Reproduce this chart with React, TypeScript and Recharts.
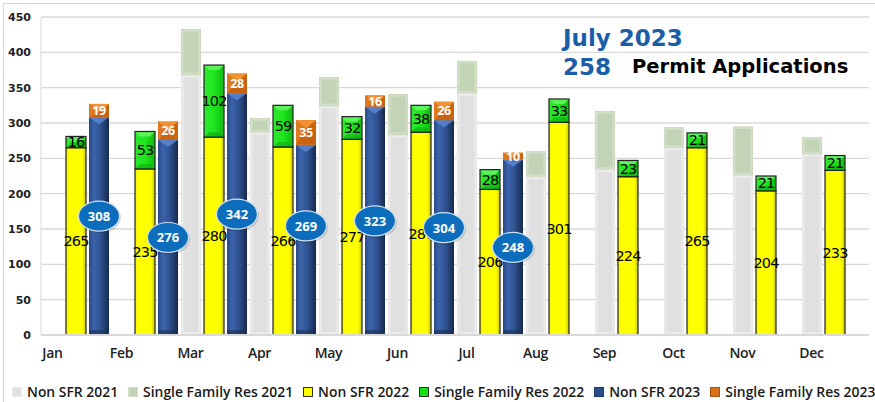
import { BarChart, Bar, XAxis, YAxis, CartesianGrid, LabelList } from "recharts";

const months = ["Jan", "Feb", "Mar", "Apr", "May", "Jun", "Jul", "Aug", "Sep", "Oct", "Nov", "Dec"];

const nonSfr2021 = [null, null, 368, 287, 324, 283, 342, 224, 234, 265, 226, 256];
const sfr2021 = [null, null, 65, 20, 41, 58, 46, 36, 83, 29, 69, 24];
const nonSfr2022 = [265, 235, 280, 266, 277, 287, 206, 301, 224, 265, 204, 233];
const sfr2022 = [16, 53, 102, 59, 32, 38, 28, 33, 23, 21, 21, 21];
const nonSfr2023 = [308, 276, 342, 269, 323, 304, 248, null, null, null, null, null];
const sfr2023 = [19, 26, 28, 35, 16, 26, 10, null, null, null, null, null];

const yTicks = [0, 50, 100, 150, 200, 250, 300, 350, 400, 450];
const minorTicks = Array.from({ length: 46 }, (_, i) => i * 10);

const legendItems = [
  { label: "Non SFR 2021", color: "#e0e0e0", border: "#ececec" },
  { label: "Single Family Res 2021", color: "#c3d3b5", border: "#d5e0ca" },
  { label: "Non SFR 2022", color: "#ffff00", border: "#333" },
  { label: "Single Family Res 2022", color: "#14e014", border: "#333" },
  { label: "Non SFR 2023", color: "#2c4d8c", border: "#1f3864" },
  { label: "Single Family Res 2023", color: "#d9701a", border: "#a85510" },
];

// the bubbles that were dragged up in the original workbook
const bubbleNudge: Record<number, number> = { 0: -10, 3: -14 };

const data = months.map((month, i) => ({
  month,
  nonSfr2021: nonSfr2021[i],
  sfr2021: sfr2021[i],
  nonSfr2022: nonSfr2022[i],
  sfr2022: sfr2022[i],
  nonSfr2023: nonSfr2023[i],
  sfr2023: sfr2023[i],
}));

const ok = (h: any) => typeof h === "number" && h > 0;

// flat boxes with a soft lighter rim (2021 series)
const SoftBar = (props: any) => {
  const { x, y, width, height, fill, rim } = props;
  if (!ok(height)) return null;
  return (
    <g>
      <rect x={x} y={y} width={width} height={height} fill={fill} />
      <rect x={x + 1.5} y={y + 1.5} width={width - 3} height={Math.max(height - 3, 0)} fill="none" stroke={rim} strokeWidth={2} />
    </g>
  );
};

const YellowBar = (props: any) => {
  const { x, y, width, height } = props;
  if (!ok(height)) return null;
  return <rect x={x} y={y} width={width} height={height} fill="url(#yellowGrad)" stroke="#222" strokeWidth={1.2} />;
};

const GreenBar = (props: any) => {
  const { x, y, width, height } = props;
  if (!ok(height)) return null;
  const d = Math.min(5, height / 2);
  return (
    <g>
      <rect x={x} y={y} width={width} height={height} fill="url(#greenGrad)" />
      <polygon points={`${x},${y} ${x + width},${y} ${x + width - d},${y + d} ${x + d},${y + d}`} fill="#5cf25c" />
      <polygon points={`${x},${y + height} ${x + width},${y + height} ${x + width - d},${y + height - d} ${x + d},${y + height - d}`} fill="#0fa80f" opacity={0.6} />
      <rect x={x} y={y} width={width} height={height} fill="none" stroke="#222" strokeWidth={1.2} />
    </g>
  );
};

const BlueBar = (props: any) => {
  const { x, y, width, height } = props;
  if (!ok(height)) return null;
  return (
    <g>
      <rect x={x} y={y} width={width} height={height} fill="url(#blueGrad)" />
      <polygon points={`${x},${y} ${x + width},${y} ${x + width / 2},${y + 7}`} fill="#5b85cc" opacity={0.85} />
      <rect x={x} y={y + height - 5} width={width} height={5} fill="#1b2f59" opacity={0.6} />
    </g>
  );
};

const OrangeBar = (props: any) => {
  const { x, y, width, height } = props;
  if (!ok(height)) return null;
  const d = Math.min(6, height / 2);
  return (
    <g>
      <rect x={x} y={y} width={width} height={height} fill="#c9630f" />
      <polygon points={`${x},${y} ${x + width},${y} ${x + width / 2},${y + d * 1.4}`} fill="#f39232" />
      <polygon points={`${x},${y} ${x + width / 2},${y + d * 1.4} ${x},${y + height}`} fill="#dd7a1f" />
    </g>
  );
};

const CenterLabel = (color: string, size: number, weight: any, family: string, spacing: number) => (props: any) => {
  const { x, y, width, height, value } = props;
  if (value == null) return null;
  return (
    <text
      x={x + width / 2}
      y={y + height / 2}
      textAnchor="middle"
      dominantBaseline="central"
      fill={color}
      fontSize={size}
      fontWeight={weight}
      fontFamily={family}
      letterSpacing={spacing}
    >
      {value}
    </text>
  );
};

const BubbleLabel = (props: any) => {
  const { x, y, width, height, value, index } = props;
  if (value == null) return null;
  const cx = x + width / 2;
  const cy = y + height / 2 + (bubbleNudge[index] || 0);
  return (
    <g>
      <ellipse cx={cx + 1} cy={cy + 1.5} rx={21} ry={15.5} fill="#000" opacity={0.15} />
      <ellipse cx={cx} cy={cy} rx={20.5} ry={15} fill="#0b6dbc" stroke="#cfe0f2" strokeWidth={1.2} />
      <text x={cx} y={cy} textAnchor="middle" dominantBaseline="central" fill="#fff" fontSize={13} fontWeight={700} fontFamily="'Open Sans', sans-serif">
        {value}
      </text>
    </g>
  );
};

const MonthTick = (props: any) => {
  const { x, y, payload } = props;
  return (
    <text x={x - 23} y={y + 15} textAnchor="middle" fill="#222" fontSize={14} fontWeight={600} fontFamily="'Open Sans', sans-serif" letterSpacing={-0.3}>
      {payload.value}
    </text>
  );
};

const labelFont = "'DejaVu Sans', sans-serif";
const titleFont = "'DejaVu Sans', sans-serif";

export default function App() {
  return (
    <div style={{ position: "fixed", left: 0, top: 0, width: 875, height: 402, background: "#fff", overflow: "hidden" }}>
      <div style={{ position: "absolute", left: 3, top: 3, width: 900, height: 420, border: "1px solid #d9d9d9" }} />
      <BarChart
        width={875}
        height={402}
        data={data}
        margin={{ top: 17, right: 6, bottom: 37, left: 0 }}
        barSize={20}
        barGap={3}
        style={{ position: "absolute", left: 0, top: 0 }}
      >
        <defs>
          <linearGradient id="blueGrad" x1="0" y1="0" x2="1" y2="0">
            <stop offset="0%" stopColor="#2a4a86" />
            <stop offset="25%" stopColor="#3c64ac" />
            <stop offset="60%" stopColor="#2e518f" />
            <stop offset="100%" stopColor="#17284d" />
          </linearGradient>
          <linearGradient id="yellowGrad" x1="0" y1="0" x2="1" y2="0">
            <stop offset="0%" stopColor="#f2f200" />
            <stop offset="15%" stopColor="#ffff00" />
            <stop offset="80%" stopColor="#ffff00" />
            <stop offset="100%" stopColor="#c8c800" />
          </linearGradient>
          <linearGradient id="greenGrad" x1="0" y1="0" x2="1" y2="0">
            <stop offset="0%" stopColor="#2ee82e" />
            <stop offset="50%" stopColor="#1ee61e" />
            <stop offset="100%" stopColor="#10b810" />
          </linearGradient>
        </defs>
        <CartesianGrid vertical={false} stroke="#d9d9d9" strokeWidth={1.3} />
        <XAxis
          dataKey="month"
          height={30}
          tickLine={false}
          axisLine={{ stroke: "#d9d9d9", strokeWidth: 2 }}
          tick={<MonthTick />}
          interval={0}
        />
        <YAxis
          domain={[0, 450]}
          ticks={yTicks}
          width={41}
          tickLine={false}
          tickMargin={4}
          axisLine={{ stroke: "#d9d9d9" }}
          tick={{ fill: "#222", fontSize: 11, fontWeight: 700, fontFamily: "'DejaVu Sans', sans-serif" }}
          interval={0}
        />
        <YAxis
          yAxisId="minor"
          domain={[0, 450]}
          ticks={minorTicks}
          mirror
          width={0}
          axisLine={false}
          tickSize={3}
          tickLine={{ stroke: "#d9d9d9" }}
          tickFormatter={() => ""}
          interval={0}
        />
        <Bar dataKey="nonSfr2021" stackId="y21" fill="#e2e2e2" isAnimationActive={false} shape={(p: any) => <SoftBar {...p} fill="#e0e0e0" rim="#ececec" />} />
        <Bar dataKey="sfr2021" stackId="y21" fill="#c3d3b5" isAnimationActive={false} shape={(p: any) => <SoftBar {...p} fill="#c3d3b5" rim="#d3dfc8" />} />
        <Bar dataKey="nonSfr2022" stackId="y22" fill="#ffff00" isAnimationActive={false} shape={YellowBar}>
          <LabelList dataKey="nonSfr2022" content={CenterLabel("#000", 14.5, 400, labelFont, -0.9)} />
        </Bar>
        <Bar dataKey="sfr2022" stackId="y22" fill="#14e014" isAnimationActive={false} shape={GreenBar}>
          <LabelList dataKey="sfr2022" content={CenterLabel("#000", 14.5, 400, labelFont, -0.9)} />
        </Bar>
        <Bar dataKey="nonSfr2023" stackId="y23" fill="#2c4d8c" isAnimationActive={false} shape={BlueBar}>
          <LabelList dataKey="nonSfr2023" content={BubbleLabel} />
        </Bar>
        <Bar dataKey="sfr2023" stackId="y23" fill="#d9701a" isAnimationActive={false} shape={OrangeBar}>
          <LabelList dataKey="sfr2023" content={CenterLabel("#fff", 12.5, 700, "'Open Sans', sans-serif", -0.3)} />
        </Bar>
      </BarChart>

      <div style={{ position: "absolute", left: 563, top: 24, fontFamily: titleFont, fontWeight: 700, fontSize: 23, color: "#1a5ea8", lineHeight: "28px" }}>
        July 2023
      </div>
      <div style={{ position: "absolute", left: 563, top: 53, fontFamily: titleFont, fontWeight: 700, fontSize: 23, color: "#1a5ea8", lineHeight: "28px" }}>
        258
      </div>
      <div style={{ position: "absolute", left: 632, top: 54, fontFamily: titleFont, fontWeight: 700, fontSize: 19.5, color: "#000", lineHeight: "26px" }}>
        Permit Applications
      </div>

      <div
        style={{
          position: "absolute",
          left: 12,
          top: 383,
          display: "flex",
          alignItems: "center",
          whiteSpace: "nowrap",
          fontFamily: "'Open Sans', sans-serif",
          fontWeight: 600,
          fontSize: 13.9,
          lineHeight: "18px",
          color: "#1a1a1a",
        }}
      >
        {legendItems.map((it) => (
          <span key={it.label} style={{ display: "inline-flex", alignItems: "center", marginRight: 10 }}>
            <span style={{ width: 8, height: 8, background: it.color, border: `1px solid ${it.border}`, marginRight: 5 }} />
            {it.label}
          </span>
        ))}
      </div>
    </div>
  );
}
